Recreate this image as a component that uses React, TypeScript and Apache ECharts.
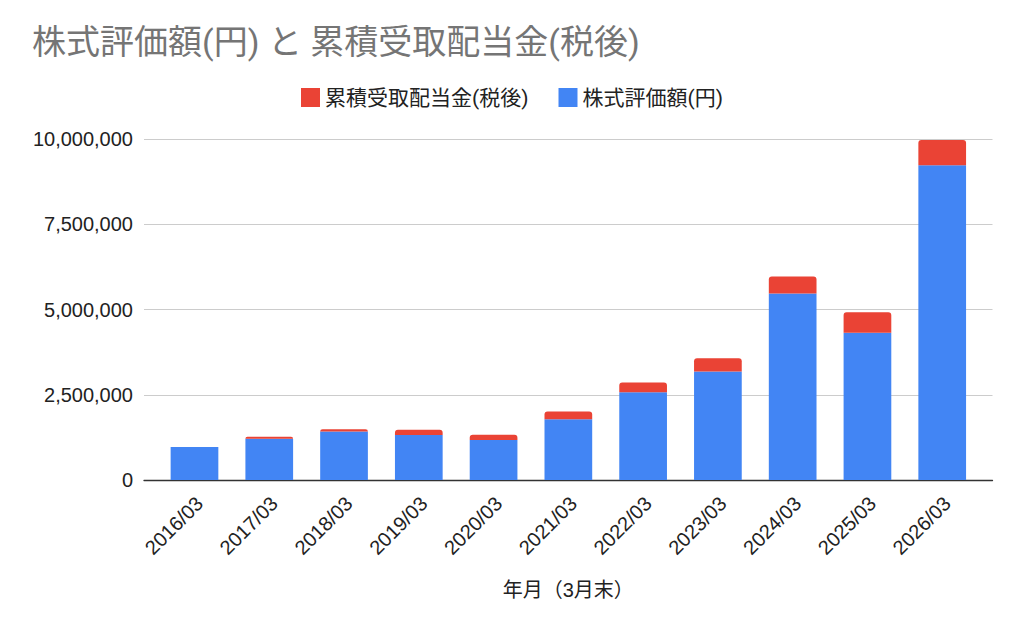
import React, { useEffect, useRef } from "react";
import * as echarts from "echarts";

const categories = ["2016/03", "2017/03", "2018/03", "2019/03", "2020/03", "2021/03", "2022/03", "2023/03", "2024/03", "2025/03", "2026/03"];
const stockValues = [970000, 1210000, 1420000, 1320000, 1170000, 1780000, 2570000, 3180000, 5470000, 4320000, 9230000];
const dividendValues = [0, 60000, 70000, 150000, 160000, 230000, 290000, 390000, 500000, 600000, 740000];
const yTicks = [0, 2500000, 5000000, 7500000, 10000000];

const TITLE = "株式評価額(円) と 累積受取配当金(税後)";
const STOCK = "株式評価額(円)";
const DIV = "累積受取配当金(税後)";
const X_NAME = "年月（3月末）";

const LATIN = "'Liberation Sans', Arial, 'Noto Sans CJK JP', sans-serif";
const TITLE_FONT = "Roboto, 'Noto Sans CJK JP', sans-serif";

export default function App() {
  const ref = useRef<HTMLDivElement>(null);
  useEffect(() => {
    if (!ref.current) return;
    const chart = echarts.init(ref.current, undefined, { renderer: "svg" });
    const yMin = yTicks[0];
    const yMax = yTicks[yTicks.length - 1];
    const yInterval = yTicks[1] - yTicks[0];
    const hiddenY = (gridIndex: number) => ({
      gridIndex,
      type: "value",
      min: yMin,
      max: yMax,
      interval: yInterval,
      show: false,
      splitLine: { show: false },
    });
    chart.setOption({
      animation: false,
      backgroundColor: "#ffffff",
      title: {
        text: TITLE,
        left: 27,
        top: 20,
        textStyle: { fontFamily: TITLE_FONT, fontSize: 34, fontWeight: "normal", color: "#757575" },
      },
      legend: {
        data: [DIV, STOCK],
        left: "center",
        top: 82,
        itemWidth: 19,
        itemHeight: 19,
        itemGap: 30,
        icon: "rect",
        textStyle: { fontFamily: TITLE_FONT, fontSize: 21, color: "#222222" },
      },
      grid: [
        { left: 144, right: 31.5, top: 139, bottom: 153 },
        { left: 157.1, right: 44.4, top: 139, bottom: 153 },
        { left: 162.1, right: 39.4, top: 139, bottom: 153 },
      ],
      xAxis: [
        {
          gridIndex: 0,
          type: "category",
          data: [""],
          axisLine: { show: true, lineStyle: { color: "#333333", width: 1.3 } },
          axisTick: { show: false },
          axisLabel: { show: false },
          splitLine: { show: false },
          name: X_NAME,
          nameLocation: "middle",
          nameGap: 100,
          nameTextStyle: { fontFamily: LATIN, fontSize: 20, color: "#222222" },
        },
        {
          gridIndex: 1,
          type: "category",
          data: categories,
          axisLine: { show: false },
          axisTick: { show: false },
          axisLabel: { show: false },
        },
        {
          gridIndex: 2,
          type: "category",
          data: categories,
          axisLine: { show: false },
          axisTick: { show: false },
          axisLabel: {
            rotate: 45,
            interval: 0,
            margin: 20,
            fontFamily: LATIN,
            fontSize: 20,
            color: "#222222",
          },
        },
      ],
      yAxis: [
        {
          gridIndex: 0,
          type: "value",
          min: yMin,
          max: yMax,
          interval: yInterval,
          axisLine: { show: false },
          axisTick: { show: false },
          axisLabel: {
            margin: 11,
            fontFamily: LATIN,
            fontSize: 20,
            color: "#222222",
            formatter: (v: number) => v.toLocaleString("en-US"),
          },
          splitLine: { show: true, lineStyle: { color: "#cccccc", width: 1 } },
        },
        hiddenY(1),
        hiddenY(2),
      ],
      series: [
        {
          name: STOCK,
          type: "bar",
          stack: "total",
          xAxisIndex: 1,
          yAxisIndex: 1,
          barWidth: 47.7,
          data: stockValues,
          itemStyle: { color: "#4285F4" },
        },
        {
          name: DIV,
          type: "bar",
          stack: "total",
          xAxisIndex: 1,
          yAxisIndex: 1,
          barWidth: 47.7,
          data: dividendValues,
          itemStyle: { color: "#EA4335", borderRadius: [3, 3, 0, 0] },
        },
      ],
    });
    return () => chart.dispose();
  }, []);
  return (
    <div
      ref={ref}
      style={{ position: "fixed", left: 0, top: 0, width: 1024, height: 633, background: "#ffffff" }}
    />
  );
}
